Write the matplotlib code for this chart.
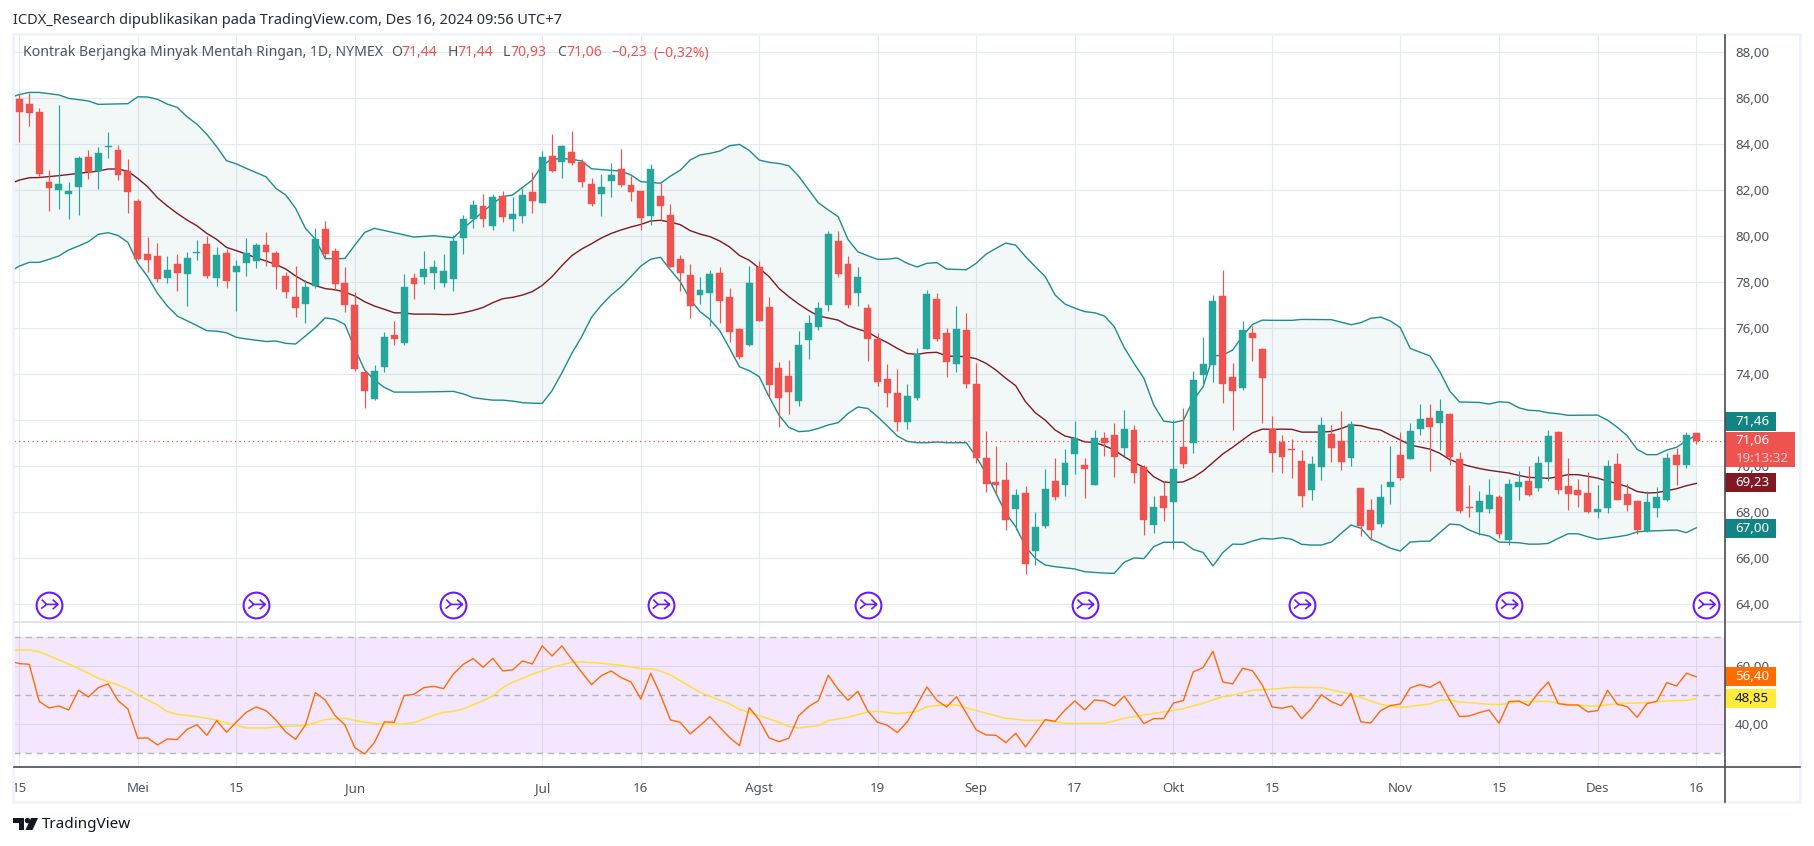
import numpy as np
import matplotlib
matplotlib.use("Agg")
import matplotlib.pyplot as plt
from matplotlib.path import Path
from matplotlib.patches import Rectangle, Polygon, Circle

# ohlc, one value per trading day, 15 Apr - 16 Des 2024
opens = [85.94, 85.72, 85.38, 82.33, 81.98, 81.81, 82.12, 83.42, 82.81, 83.86,
         83.72, 82.81, 81.51, 79.20, 79.12, 78.16, 78.77, 78.33, 79.26, 79.64,
         78.16, 79.25, 78.42, 78.81, 78.90, 79.59, 79.25, 78.25, 77.33, 77.03,
         77.81, 80.29, 79.33, 77.94, 76.98, 74.07, 72.90, 74.29, 75.68, 75.33,
         78.16, 78.20, 78.38, 77.94, 78.12, 79.90, 80.72, 81.29, 80.42, 81.72,
         80.72, 80.85, 81.90, 81.42, 83.46, 83.20, 83.64, 83.20, 82.25, 81.81,
         82.38, 82.90, 82.20, 81.94, 80.85, 81.72, 80.90, 78.98, 78.29, 77.42,
         77.51, 78.38, 77.33, 75.94, 75.25, 78.64, 76.90, 74.25, 73.90, 72.81,
         75.46, 76.03, 76.98, 79.77, 78.77, 77.51, 76.85, 75.51, 73.77, 73.16,
         71.90, 72.94, 75.07, 77.25, 75.77, 74.42, 75.90, 73.55, 70.33, 69.29,
         69.38, 68.12, 68.81, 66.29, 67.38, 69.33, 69.16, 70.51, 70.03, 69.16,
         71.20, 71.33, 70.77, 71.55, 69.94, 67.42, 68.68, 68.42, 70.81, 70.98,
         73.94, 74.38, 77.38, 73.85, 73.38, 75.77, 75.07, 71.59, 71.03, 70.72,
         70.20, 68.94, 69.94, 71.38, 71.07, 70.33, 69.03, 68.07, 67.46, 69.07,
         70.46, 70.29, 71.59, 72.07, 71.85, 72.25, 70.29, 68.20, 67.98, 68.12,
         68.64, 66.77, 69.07, 69.33, 69.03, 70.16, 71.46, 69.12, 68.94, 68.81,
         67.98, 68.16, 70.07, 68.77, 68.46, 67.16, 68.16, 68.51, 70.46, 70.03,
         71.44]
closes = [85.38, 85.33, 82.68, 82.07, 82.25, 81.94, 83.38, 82.77, 83.59, 83.88,
          82.64, 81.90, 78.98, 78.94, 78.12, 78.51, 78.38, 79.03, 79.29, 78.25,
          79.16, 78.03, 78.68, 79.25, 79.59, 79.29, 78.64, 77.55, 76.85, 77.77,
          79.85, 79.20, 77.90, 76.98, 74.20, 73.25, 74.12, 75.59, 75.51, 77.77,
          77.90, 78.55, 78.64, 78.46, 79.77, 80.72, 81.33, 80.72, 81.68, 80.81,
          80.94, 81.77, 81.51, 83.42, 82.81, 83.90, 83.16, 82.33, 81.38, 82.12,
          82.64, 82.20, 81.90, 80.77, 82.90, 81.29, 78.64, 78.38, 76.94, 77.64,
          78.33, 77.16, 75.81, 74.72, 77.94, 76.29, 73.51, 72.94, 73.20, 75.25,
          76.20, 76.85, 80.07, 78.33, 76.98, 78.20, 75.51, 73.64, 73.16, 71.90,
          73.03, 74.85, 77.46, 75.51, 74.51, 75.94, 73.55, 70.33, 69.20, 69.16,
          67.64, 68.72, 65.72, 67.33, 68.98, 68.64, 70.12, 71.20, 69.85, 71.20,
          70.98, 70.38, 71.59, 69.68, 67.64, 68.20, 68.16, 69.85, 70.07, 73.72,
          74.42, 77.16, 73.55, 73.25, 75.90, 75.55, 73.81, 70.55, 70.38, 70.68,
          68.68, 70.07, 71.77, 70.77, 70.16, 71.81, 67.38, 67.20, 68.64, 69.29,
          69.46, 71.51, 72.03, 71.68, 72.38, 70.38, 68.03, 68.17, 68.46, 68.72,
          67.03, 69.20, 69.29, 68.72, 70.12, 71.29, 68.94, 68.77, 68.72, 67.98,
          68.12, 69.98, 68.51, 68.29, 67.20, 68.42, 68.64, 70.33, 70.03, 71.33,
          71.06]
highs = [86.14, 86.19, 85.54, 82.85, 85.68, 82.33, 83.46, 83.72, 83.86, 84.51,
         83.94, 83.33, 81.59, 79.94, 79.68, 79.12, 79.20, 79.29, 79.81, 79.98,
         79.51, 79.42, 78.94, 79.90, 79.68, 80.16, 79.33, 78.42, 78.68, 78.07,
         80.33, 80.64, 79.46, 78.64, 77.55, 74.07, 74.38, 75.81, 76.29, 78.33,
         78.38, 79.33, 78.94, 79.20, 80.03, 80.90, 81.55, 81.81, 81.81, 81.94,
         81.68, 82.07, 82.77, 83.68, 84.42, 83.94, 84.55, 83.33, 82.51, 82.68,
         83.16, 83.77, 82.59, 81.94, 83.12, 82.29, 81.38, 79.16, 78.77, 78.20,
         78.51, 78.64, 77.72, 75.98, 78.68, 78.90, 77.33, 74.51, 74.59, 75.85,
         76.55, 77.12, 80.20, 80.20, 79.12, 78.64, 77.03, 75.77, 74.42, 74.20,
         73.55, 75.12, 77.64, 77.51, 75.98, 76.94, 76.64, 74.46, 71.51, 70.85,
         70.16, 68.98, 69.12, 67.98, 69.85, 70.33, 70.72, 71.94, 70.33, 71.55,
         71.46, 71.85, 72.42, 71.77, 70.03, 68.68, 69.29, 71.98, 72.51, 74.12,
         75.59, 77.42, 78.51, 74.46, 76.29, 76.07, 75.12, 72.16, 71.33, 71.16,
         70.68, 70.42, 72.12, 71.77, 72.38, 71.94, 69.03, 68.55, 69.20, 70.85,
         71.46, 71.85, 72.68, 72.68, 72.90, 72.29, 70.59, 69.16, 68.90, 69.42,
         68.72, 69.42, 69.77, 69.98, 70.42, 71.55, 71.51, 70.33, 69.42, 69.72,
         69.16, 70.25, 70.55, 69.20, 68.51, 68.90, 69.07, 70.55, 70.77, 71.46,
         71.44]
lows = [84.09, 84.77, 82.59, 81.07, 81.16, 80.72, 80.90, 82.46, 82.03, 83.38,
        82.42, 80.98, 78.94, 78.42, 77.98, 77.94, 77.59, 76.94, 78.94, 78.16,
        77.81, 77.72, 76.72, 78.25, 78.59, 78.68, 77.68, 77.29, 76.46, 76.20,
        77.72, 78.98, 77.64, 76.68, 74.12, 72.51, 72.85, 74.07, 75.25, 75.25,
        77.25, 77.90, 77.68, 77.77, 77.59, 79.20, 80.33, 80.38, 80.25, 80.59,
        80.20, 80.55, 80.98, 81.42, 82.77, 82.51, 83.07, 82.12, 81.29, 80.85,
        81.68, 82.12, 81.51, 80.25, 80.46, 80.68, 78.64, 77.59, 76.42, 77.03,
        76.07, 76.20, 75.38, 74.64, 75.20, 76.29, 72.98, 71.68, 72.25, 72.59,
        74.64, 75.90, 76.72, 78.20, 76.85, 76.94, 74.55, 73.46, 72.55, 71.51,
        71.59, 72.85, 75.07, 75.42, 73.85, 74.07, 73.38, 70.12, 68.85, 68.72,
        67.20, 67.20, 65.29, 65.68, 67.29, 68.51, 68.68, 69.64, 68.59, 69.16,
        70.42, 69.51, 70.42, 69.25, 66.98, 67.07, 67.59, 66.38, 69.90, 70.55,
        73.46, 73.64, 72.72, 71.55, 73.29, 74.55, 71.85, 69.72, 69.68, 69.46,
        68.20, 68.51, 69.38, 70.16, 69.81, 69.98, 66.94, 66.77, 67.33, 68.33,
        69.38, 70.29, 71.33, 69.77, 70.68, 70.03, 67.94, 67.77, 66.98, 67.94,
        66.85, 66.55, 68.51, 68.68, 68.90, 69.33, 68.77, 68.07, 68.20, 67.94,
        67.72, 67.94, 68.51, 68.03, 67.03, 67.12, 67.77, 68.46, 69.16, 69.90,
        70.93]

# bollinger bands, read at the bars where the line bends
upper_idx = [-1, 0, 1, 2, 4, 5, 7, 8, 11, 12, 13, 14, 15, 16, 17, 18, 19, 20, 21, 22,
             23, 25, 26, 27, 28, 29, 30, 31, 32, 33, 34, 35, 36, 38, 40, 42, 44, 45, 46, 47,
             48, 49, 50, 51, 52, 53, 54, 55, 56, 57, 58, 60, 61, 62, 63, 64, 65, 66, 67, 68,
             69, 70, 71, 72, 73, 74, 75, 76, 77, 78, 79, 80, 81, 82, 83, 84, 85, 86, 87, 88,
             89, 90, 91, 92, 93, 94, 96, 97, 98, 99, 100, 101, 102, 103, 104, 105, 106, 107, 108, 109,
             110, 111, 112, 113, 114, 115, 116, 117, 118, 119, 120, 121, 122, 123, 124, 125, 126, 127, 129, 130,
             133, 135, 136, 137, 138, 139, 140, 141, 143, 144, 145, 146, 148, 149, 150, 151, 152, 153, 154, 155,
             156, 157, 160, 161, 162, 163, 164, 165, 166, 167, 168, 169, 170]
upper = [86.00, 86.14, 86.23, 86.23, 86.12, 85.97, 85.86, 85.71, 85.74, 86.04, 86.03, 85.93, 85.72, 85.58, 85.17, 84.85, 84.41, 83.87, 83.26, 83.12,
         82.93, 82.56, 82.06, 81.77, 81.19, 80.32, 79.85, 79.01, 79.00, 79.01, 79.59, 80.14, 80.32, 80.13, 79.94, 80.00, 79.91, 80.32, 80.68, 81.04,
         81.41, 81.70, 81.77, 82.10, 82.42, 83.07, 83.32, 83.36, 83.32, 83.25, 82.91, 82.84, 82.81, 82.64, 82.35, 82.32, 82.28, 82.59, 82.85, 83.29,
         83.51, 83.58, 83.68, 83.91, 83.97, 83.70, 83.29, 83.19, 83.14, 83.04, 82.59, 82.01, 81.43, 81.12, 80.83, 79.84, 79.30, 79.13, 78.97, 78.98,
         79.03, 78.80, 78.64, 78.80, 78.83, 78.55, 78.52, 78.80, 79.20, 79.45, 79.68, 79.59, 79.09, 78.65, 78.22, 77.42, 77.03, 76.85, 76.70, 76.65,
         76.51, 76.04, 75.14, 74.45, 73.80, 72.64, 71.94, 71.88, 71.97, 72.85, 73.43, 74.77, 74.81, 75.03, 75.64, 76.14, 76.33, 76.32, 76.32, 76.36,
         76.35, 76.13, 76.22, 76.41, 76.46, 76.29, 76.00, 75.10, 74.77, 74.09, 73.25, 72.77, 72.75, 72.68, 72.78, 72.75, 72.52, 72.41, 72.39, 72.30,
         72.26, 72.19, 72.20, 71.98, 71.67, 71.30, 70.71, 70.48, 70.48, 70.68, 70.80, 71.09, 71.33]
basis_idx = [-1, 0, 1, 2, 4, 6, 8, 9, 10, 11, 12, 13, 14, 15, 16, 17, 18, 19, 20, 21,
             22, 23, 24, 25, 26, 27, 28, 29, 30, 31, 32, 33, 34, 35, 36, 37, 38, 39, 40, 42,
             43, 44, 45, 46, 47, 48, 49, 50, 51, 52, 53, 54, 55, 56, 57, 58, 59, 60, 61, 62,
             63, 64, 65, 66, 67, 68, 69, 70, 71, 72, 73, 74, 75, 76, 77, 78, 79, 80, 81, 82,
             83, 84, 85, 86, 87, 88, 89, 90, 91, 92, 93, 94, 96, 97, 98, 99, 100, 101, 102, 103,
             104, 105, 106, 107, 108, 109, 110, 111, 112, 113, 114, 115, 116, 117, 118, 119, 120, 121, 122, 123,
             124, 125, 126, 127, 128, 129, 130, 132, 133, 134, 135, 136, 137, 138, 139, 140, 141, 142, 143, 144,
             145, 146, 147, 148, 149, 150, 151, 152, 153, 154, 155, 156, 157, 158, 159, 160, 161, 162, 163, 164,
             165, 166, 167, 168, 169, 170]
basis = [82.25, 82.42, 82.52, 82.53, 82.61, 82.71, 82.81, 82.90, 82.90, 82.80, 82.49, 82.13, 81.65, 81.29, 80.97, 80.68, 80.43, 80.10, 79.84, 79.49,
         79.35, 79.20, 79.04, 78.90, 78.75, 78.55, 78.25, 78.00, 77.83, 77.70, 77.65, 77.55, 77.38, 77.13, 76.94, 76.80, 76.65, 76.64, 76.59, 76.59,
         76.57, 76.58, 76.65, 76.75, 76.88, 77.09, 77.26, 77.32, 77.42, 77.57, 77.84, 78.22, 78.70, 79.13, 79.42, 79.65, 79.90, 80.10, 80.25, 80.38,
         80.49, 80.64, 80.67, 80.59, 80.48, 80.22, 80.07, 79.96, 79.77, 79.51, 79.14, 78.93, 78.59, 78.22, 77.71, 77.35, 77.03, 76.75, 76.51, 76.42,
         76.33, 76.09, 75.94, 75.81, 75.56, 75.35, 75.10, 74.88, 74.84, 74.91, 74.93, 74.77, 74.74, 74.65, 74.45, 74.16, 73.80, 73.48, 72.78, 72.30,
         71.98, 71.55, 71.29, 71.19, 71.04, 71.01, 70.87, 70.68, 70.39, 70.14, 69.93, 69.52, 69.29, 69.26, 69.30, 69.49, 69.77, 70.14, 70.51, 70.80,
         71.12, 71.43, 71.59, 71.58, 71.59, 71.58, 71.46, 71.46, 71.49, 71.62, 71.77, 71.74, 71.62, 71.55, 71.33, 71.12, 70.90, 70.81, 70.72, 70.54,
         70.27, 70.10, 69.98, 69.88, 69.80, 69.74, 69.68, 69.58, 69.49, 69.48, 69.45, 69.52, 69.61, 69.61, 69.54, 69.46, 69.33, 69.22, 69.09, 68.88,
         68.81, 68.83, 68.91, 69.00, 69.13, 69.23]
lower_idx = [-1, 0, 1, 2, 3, 4, 5, 6, 7, 8, 9, 10, 11, 12, 13, 14, 15, 16, 17, 18,
             19, 20, 21, 22, 23, 25, 26, 27, 28, 29, 30, 31, 32, 33, 34, 35, 36, 37, 38, 40,
             44, 45, 46, 47, 48, 49, 50, 51, 52, 53, 54, 55, 56, 57, 58, 59, 60, 61, 62, 63,
             64, 65, 66, 67, 68, 69, 70, 71, 72, 73, 74, 75, 76, 77, 78, 79, 80, 81, 82, 83,
             84, 85, 86, 87, 88, 89, 90, 91, 92, 93, 94, 96, 97, 98, 99, 100, 101, 102, 103, 104,
             105, 107, 108, 110, 111, 112, 113, 114, 115, 116, 118, 119, 120, 121, 122, 123, 124, 125, 126, 127,
             128, 129, 130, 131, 132, 133, 134, 135, 136, 137, 138, 139, 140, 141, 142, 143, 144, 145, 146, 147,
             148, 149, 150, 152, 153, 154, 155, 156, 157, 158, 159, 160, 161, 162, 163, 164, 165, 166, 167, 168,
             169, 170]
lower = [78.43, 78.68, 78.84, 78.84, 78.97, 79.12, 79.38, 79.55, 79.74, 80.06, 80.13, 80.01, 79.71, 78.80, 78.22, 77.49, 76.94, 76.51, 76.30, 76.09,
         75.87, 75.85, 75.78, 75.58, 75.51, 75.40, 75.42, 75.32, 75.29, 75.64, 76.00, 76.43, 76.36, 76.14, 75.10, 74.16, 73.72, 73.40, 73.20, 73.20,
         73.23, 73.12, 72.96, 72.90, 72.85, 72.85, 72.81, 72.74, 72.72, 72.71, 73.26, 74.04, 74.88, 75.61, 76.45, 76.98, 77.42, 77.78, 78.22, 78.68,
         78.98, 79.06, 78.51, 78.00, 77.23, 76.70, 76.36, 75.87, 75.10, 74.30, 74.13, 73.87, 73.00, 72.20, 71.67, 71.48, 71.51, 71.62, 71.77, 71.87,
         72.27, 72.55, 72.49, 72.13, 71.72, 71.29, 71.06, 71.00, 71.00, 71.03, 71.00, 71.00, 70.39, 69.67, 68.80, 67.93, 67.35, 66.48, 65.97, 65.68,
         65.61, 65.51, 65.39, 65.33, 65.32, 65.80, 65.99, 65.96, 66.48, 66.67, 66.67, 66.36, 66.23, 65.64, 66.22, 66.59, 66.58, 66.72, 66.84, 66.81,
         66.87, 66.80, 66.58, 66.55, 66.55, 66.68, 67.06, 67.42, 67.28, 66.81, 66.62, 66.41, 66.29, 66.68, 66.71, 66.72, 67.09, 67.46, 67.43, 67.20,
         67.03, 66.94, 66.68, 66.65, 66.59, 66.59, 66.62, 66.84, 67.04, 67.04, 66.91, 66.80, 66.85, 66.91, 66.98, 67.12, 67.16, 67.17, 67.19, 67.20,
         67.09, 67.30]

# rsi, first value sits one bar left of the first candle
rsi = [61.85, 60.92, 60.69, 47.93, 45.64, 46.33, 44.95, 51.72, 49.43, 52.64, 53.91, 48.16, 45.29, 35.18, 35.29, 32.88, 34.95, 34.72, 38.28, 39.89,
       36.21, 41.27, 37.25, 40.81, 44.14, 45.98, 44.72, 41.50, 37.36, 34.83, 39.78, 50.92, 48.39, 43.00, 39.78, 31.96, 29.77, 33.79, 40.81, 40.69,
       49.89, 50.35, 52.64, 53.11, 52.30, 57.36, 60.69, 62.65, 59.66, 62.76, 58.40, 58.74, 61.84, 60.81, 67.02, 63.57, 67.02, 62.42, 57.94, 53.68,
       56.79, 58.40, 56.10, 54.60, 48.74, 57.59, 50.11, 41.50, 40.69, 36.67, 39.55, 42.65, 38.97, 35.41, 32.65, 45.75, 41.50, 35.29, 34.03, 35.18,
       42.88, 46.09, 48.16, 56.90, 52.07, 48.28, 51.38, 44.60, 40.69, 39.66, 37.13, 40.81, 46.67, 52.87, 48.28, 45.98, 49.54, 43.80, 38.05, 36.33,
       36.21, 33.68, 36.90, 32.19, 36.90, 41.61, 41.04, 44.95, 48.05, 44.95, 48.39, 48.05, 46.33, 49.77, 44.95, 40.23, 41.96, 41.96, 47.36, 48.16,
       58.05, 59.55, 65.18, 54.60, 53.91, 59.31, 58.51, 53.57, 45.98, 45.52, 46.33, 41.96, 45.52, 50.23, 47.82, 46.44, 50.69, 40.81, 40.46, 44.72,
       46.44, 47.02, 52.53, 53.68, 52.76, 54.72, 48.39, 42.65, 42.88, 44.03, 44.95, 40.35, 47.82, 48.05, 46.44, 50.92, 54.60, 47.13, 46.67, 46.67,
       44.26, 44.72, 51.72, 46.90, 46.09, 42.42, 47.13, 47.93, 54.37, 53.22, 57.59, 56.40]
rsi_ma_idx = [-1, 1, 2, 4, 6, 8, 10, 11, 12, 14, 15, 16, 18, 20, 22, 23, 25, 27, 29, 31,
              33, 35, 37, 39, 40, 42, 43, 44, 45, 47, 48, 49, 50, 52, 54, 56, 57, 59, 61, 63,
              64, 65, 66, 67, 69, 70, 72, 73, 75, 77, 78, 79, 81, 82, 84, 86, 87, 89, 91, 92,
              94, 95, 97, 100, 102, 104, 106, 110, 112, 114, 116, 118, 120, 122, 123, 125, 127, 129, 132, 135,
              138, 140, 143, 144, 145, 146, 149, 150, 152, 155, 156, 159, 160, 162, 165, 167, 169, 170]
rsi_ma = [65.52, 65.64, 65.06, 62.19, 59.31, 55.87, 53.57, 52.19, 50.11, 46.67, 44.37, 43.45, 42.65, 41.50, 39.55, 38.74, 38.74, 39.32, 39.55, 41.61,
          42.07, 40.69, 40.00, 40.12, 40.58, 43.11, 44.14, 44.49, 45.29, 48.16, 49.77, 52.64, 54.49, 57.25, 59.66, 61.38, 61.50, 61.04, 60.35, 59.20,
          59.09, 58.40, 57.00, 55.06, 51.04, 49.66, 47.02, 45.18, 43.00, 40.69, 39.20, 38.74, 39.55, 41.27, 42.42, 44.26, 44.49, 43.68, 44.37, 46.09,
          46.79, 46.67, 44.72, 42.07, 41.38, 41.38, 40.35, 40.35, 42.07, 43.22, 44.26, 45.41, 47.25, 49.54, 50.00, 51.72, 52.07, 52.76, 52.64, 50.35,
          46.90, 45.75, 47.02, 48.28, 48.39, 47.71, 46.90, 46.79, 47.82, 47.93, 47.25, 46.33, 46.33, 47.13, 47.47, 48.05, 48.28, 48.85]

price_ticks = [64, 66, 68, 70, 72, 74, 76, 78, 80, 82, 84, 86, 88]
rsi_ticks = [40, 60]
rsi_levels = [30, 50, 70]
date_idx = [0, 12, 22, 34, 53, 63, 75, 87, 97, 107, 117, 127, 140, 150, 160, 170]
date_labels = ["15", "Mei", "15", "Jun", "Jul", "16", "Agst", "19", "Sep", "17", "Okt", "15", "Nov", "15", "Des", "16"]
month_labels = ["Mei", "Jun", "Jul", "Agst", "Sep", "Okt", "Nov", "Des"]
roll_idx = [3, 24, 44, 65, 86, 108, 130, 151, 171]
band_tags = [71.46, 69.23, 67.00]

GREEN = "#26a69a"
RED = "#ef5350"
BAND = "#1f8c8c"
BASIS = "#801922"
GRID = "#e3ebf1"
TEXT = "#50535e"

W, H = 1814, 846
LEFT, RIGHT = 14, 1724.5
TOP, SPLIT, BOTTOM = 35, 622.5, 767
BAR0, BAR_W = 19.4, 9.864

plt.rcParams["font.family"] = ["Noto Sans", "DejaVu Sans"]


def add_pane(top, bottom):
    return fig.add_axes([LEFT / W, 1 - bottom / H, (RIGHT - LEFT) / W, (bottom - top) / H])


def fmt(v):
    return f"{v:.2f}".replace(".", ",")


fig = plt.figure(figsize=(W / 100, H / 100), dpi=100, facecolor="white")
ax = add_pane(TOP, SPLIT)
ax2 = add_pane(SPLIT, BOTTOM)

xlim = ((LEFT - BAR0) / BAR_W, (RIGHT - BAR0) / BAR_W)
ax.set_xlim(xlim)
ax2.set_xlim(xlim)
ax.set_ylim(88 - (SPLIT - 51.7) / 23, 88 + (51.7 - TOP) / 23)
ax2.set_ylim(60 - (BOTTOM - 666.3) / 2.9, 60 + (666.3 - SPLIT) / 2.9)

for a in (ax, ax2):
    for s in a.spines.values():
        s.set_visible(False)
    a.set_xticks(date_idx)
    a.grid(True, color=GRID, lw=0.8, zorder=0)
    a.set_axisbelow(True)
    a.yaxis.tick_right()
    a.tick_params(length=0, labelsize=9.6, labelcolor=TEXT, pad=7.5)

ax.set_yticks(price_ticks)
ax.set_yticklabels([fmt(v) for v in price_ticks])
ax.tick_params(axis="x", labelbottom=False)

# bands
x_up = np.array(upper_idx)
x_lo = np.array(lower_idx)
ax.fill(np.r_[x_up, x_lo[::-1]], np.r_[upper, lower[::-1]], color="#2a9090", alpha=0.06, lw=0, zorder=1)
ax.plot(upper_idx, upper, color=BAND, lw=1.0, zorder=2)
ax.plot(lower_idx, lower, color=BAND, lw=1.0, zorder=2)
ax.plot(basis_idx, basis, color=BASIS, lw=1.0, zorder=2)

# last price line
ax.axhline(closes[-1], color=RED, lw=0.9, ls=(0, (1, 2.6)), zorder=2)

# candles
bars = np.arange(len(opens))
o = np.array(opens)
c = np.array(closes)
colors = [GREEN if cl >= op else RED for op, cl in zip(o, c)]
ax.vlines(bars, lows, highs, colors=colors, lw=0.85, zorder=3)
ax.bar(bars, np.abs(c - o), bottom=np.minimum(o, c), width=0.7, color=colors,
       edgecolor=colors, lw=0.3, zorder=4)

# roll markers
roll_y = [88 - (605 - 51.7) / 23] * len(roll_idx)
arrow = Path([(-26, -12), (-8, 2), (30, 2), (12, -14), (30, 2), (12, 18), (-24, 18), (-8, 2)],
             [Path.MOVETO, Path.LINETO, Path.LINETO, Path.MOVETO, Path.LINETO, Path.LINETO,
              Path.MOVETO, Path.LINETO])
ax.scatter(roll_idx, roll_y, s=345, facecolors="white", edgecolors="#6a1bff", linewidths=1.5, zorder=5)
ax.scatter(roll_idx, roll_y, s=170, marker=arrow, facecolors="none", edgecolors="#6a1bff",
           linewidths=1.2, zorder=6)

# rsi pane
ax2.set_yticks(rsi_ticks)
ax2.set_yticklabels([fmt(v) for v in rsi_ticks])
ax2.set_xticklabels(date_labels)
for lab, name in zip(ax2.get_xticklabels(), date_labels):
    if name in month_labels:
        lab.set_fontweight("bold")
ax2.tick_params(axis="x", pad=11)
ax2.axhspan(rsi_levels[0], rsi_levels[-1], facecolor=(0.72, 0.36, 0.95, 0.15), lw=0, zorder=1)
for lv in rsi_levels:
    ax2.axhline(lv, color="#b2b5be", lw=1, ls=(0, (4.5, 3.5)), zorder=2)
ax2.plot(rsi_ma_idx, rsi_ma, color="#fde13a", lw=1.1, zorder=3)
ax2.plot(np.arange(-1, len(rsi) - 1), rsi, color="#ff6d00", lw=1.0, zorder=4)

# overlay in pixels for frame, tags, header and logo
ov = fig.add_axes([0, 0, 1, 1], zorder=10)
ov.set_xlim(0, W)
ov.set_ylim(H, 0)
ov.axis("off")
ov.patch.set_alpha(0)

ov.add_patch(Rectangle((13, 34), 1787, 768, fill=False, ec="#f0f3fa", lw=2.0))
ov.plot([LEFT, 1800], [SPLIT, SPLIT], color="#e0e3eb", lw=1.4)
ov.plot([LEFT, 1800], [BOTTOM, BOTTOM], color="#4a4c55", lw=1.2)
ov.plot([RIGHT, RIGHT], [35, 802], color="#4a4c55", lw=1.2)


def tag(y, w, h, color, text, tcolor="white", weight="normal"):
    ov.add_patch(Rectangle((RIGHT + 0.5, y - h / 2), w, h, fc=color, ec="none"))
    ov.text(1752, y, text, color=tcolor, fontsize=9.6, ha="center", va="center", fontweight=weight)


tag(421.3, 51, 19, "#138484", fmt(band_tags[0]))
tag(482.3, 51, 19, BASIS, fmt(band_tags[1]))
tag(528.3, 51, 19, "#138484", fmt(band_tags[2]))
tag(449.5, 70, 35, RED, "")
ov.text(1752, 441, fmt(closes[-1]), color="white", fontsize=9.6, ha="center", va="center")
ov.text(1762, 458, "19:13:32", color="#fcd0cf", fontsize=9.6, ha="center", va="center")
tag(677, 51, 19, "#ff6d00", fmt(rsi[-1]))
tag(698.5, 51, 19, "#ffeb3b", fmt(rsi_ma[-1]), tcolor="#131722")

ov.text(13, 20, "ICDX_Research dipublikasikan pada TradingView.com, Des 16, 2024 09:56 UTC+7",
        color="#2a2e39", fontsize=10.5, va="center")
ov.text(23.3, 53, "Kontrak Berjangka Minyak Mentah Ringan, 1D, NYMEX", color=TEXT, fontsize=10.1, va="center")
for x, txt, col in [(391, "O", TEXT), (401.7, "71,44", RED), (447.7, "H", TEXT), (457.7, "71,44", RED),
                    (503, "L", TEXT), (510.7, "70,93", RED), (556.7, "C", TEXT), (566.7, "71,06", RED),
                    (611.7, "\u22120,23", RED), (654, "(\u22120,32%)", RED)]:
    ov.text(x, 53, txt, color=col, fontsize=10.1, va="center")

# logo
ov.add_patch(Polygon([(13, 818), (24, 818), (24, 830), (18.5, 830), (18.5, 823.5), (13, 823.5)], fc="#131722", ec="none"))
ov.add_patch(Circle((27.5, 820.6), 2.7, fc="#131722", ec="none"))
ov.add_patch(Polygon([(31, 818), (38, 818), (32.5, 830), (25.5, 830)], fc="#131722", ec="none"))
ov.text(42.3, 824.5, "TradingView", color="#131722", fontsize=11, va="center")

fig.savefig("out.png", dpi=100)
